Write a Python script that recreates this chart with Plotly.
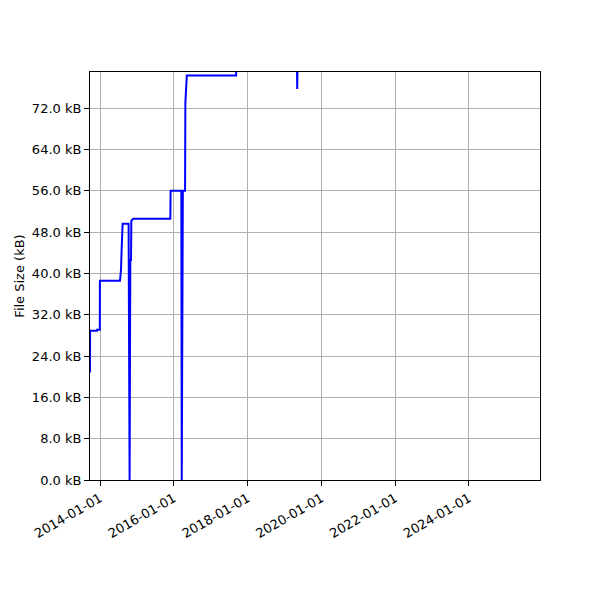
import plotly.graph_objs as go

# commit dates and file sizes (kB)
dates = [
    "2013-09-24", "2013-09-25", "2013-12-02", "2013-12-03", "2013-12-30",
    "2013-12-31", "2014-07-18", "2014-07-28", "2014-08-03", "2014-08-13",
    "2014-10-11", "2014-10-21", "2014-10-28", "2014-11-04", "2014-11-07",
    "2014-11-27", "2015-11-28", "2015-12-01", "2016-03-16", "2016-03-20",
    "2016-03-31", "2016-04-22", "2016-04-25", "2016-05-09", "2017-09-09",
    "2017-09-12", "2019-05-04", "2019-05-07", "2019-05-10", "2025-06-01",
]
sizes_kb = [
    20.8, 28.9, 28.9, 29.1, 29.1,
    38.6, 38.6, 40.7, 44.6, 49.6,
    49.6, 0.0, 42.6, 42.6, 50.2,
    50.6, 50.6, 56.0, 56.0, 0.0,
    56.0, 56.0, 73.0, 78.3, 78.3,
    81.0, 81.0, 75.7, 81.0, 82.0,
]

x_ticks = ["2014-01-01", "2016-01-01", "2018-01-01", "2020-01-01",
           "2022-01-01", "2024-01-01"]
y_ticks = [0, 8, 16, 24, 32, 40, 48, 56, 64, 72]

trace = go.Scatter(x=dates, y=sizes_kb, mode="lines",
                   line=dict(color="#0000ff", width=2))

# the page body adds 8px, so margins are shifted to compensate
layout = go.Layout(
    width=600, height=600,
    margin=dict(l=82, r=68, t=64, b=128),
    paper_bgcolor="white", plot_bgcolor="white",
    font=dict(family="DejaVu Sans", size=13, color="black"),
    showlegend=False,
    xaxis=dict(
        type="date", range=["2013-09-24", "2025-12-04"],
        tickvals=x_ticks, ticktext=x_ticks, tickangle=-30,
        tickfont=dict(size=13),
        showgrid=True, gridcolor="#b0b0b0", gridwidth=1,
        showline=True, linecolor="black", linewidth=1, mirror=True,
        ticks="outside", ticklen=5, tickcolor="black", zeroline=False,
    ),
    yaxis=dict(
        range=[0, 79.0],
        tickvals=y_ticks, ticktext=[f"{v:.1f} kB" for v in y_ticks],
        tickfont=dict(size=13),
        title=dict(text="File Size (kB)", standoff=4, font=dict(size=13)),
        showgrid=True, gridcolor="#b0b0b0", gridwidth=1,
        showline=True, linecolor="black", linewidth=1, mirror=True,
        ticks="outside", ticklen=5, tickcolor="black", zeroline=False,
    ),
)

fig = go.Figure(data=[trace], layout=layout)
fig.write_html("out.html")
